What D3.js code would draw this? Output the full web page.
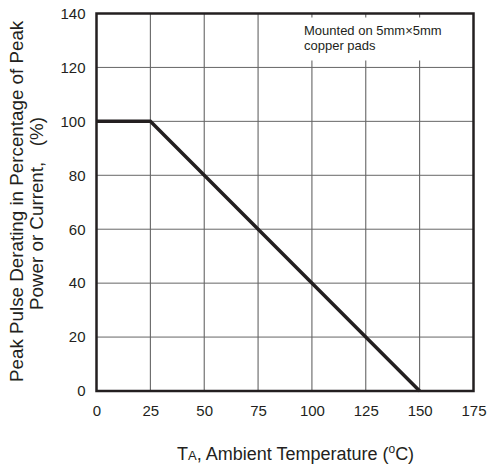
<!DOCTYPE html>
<html><head><meta charset="utf-8">
<script src="https://cdn.jsdelivr.net/npm/d3@7"></script>
<style>
html,body{margin:0;padding:0;background:#fff;}
svg{display:block;font-family:"Liberation Sans",Arial,sans-serif;}
</style></head>
<body>
<svg id="c" width="487" height="470"></svg>
<script>
const temps = [0, 25, 150];
const derating = [100, 100, 0];
const xTicks = [0, 25, 50, 75, 100, 125, 150, 175];
const yTicks = [0, 20, 40, 60, 80, 100, 120, 140];
const noteLines = ["Mounted on 5mm\u00d75mm", "copper pads"];

const svg = d3.select("#c");
const ink = "#231f20";
const L = 96.5, R = 473.5, T = 13.5, B = 391;
const x = d3.scaleLinear().domain([0, 175]).range([L, R]);
const y = d3.scaleLinear().domain([0, 140]).range([B, T]);

// grid
svg.append("g").selectAll("line").data(xTicks.slice(1, -1)).join("line")
  .attr("x1", d => x(d)).attr("x2", d => x(d)).attr("y1", T).attr("y2", B)
  .attr("stroke", "#555").attr("stroke-width", 1);
svg.append("g").selectAll("line").data(yTicks.slice(1, -1)).join("line")
  .attr("y1", d => y(d)).attr("y2", d => y(d)).attr("x1", L).attr("x2", R)
  .attr("stroke", "#666").attr("stroke-width", 1);

// note box
svg.append("rect").attr("x", 300).attr("y", 17.5).attr("width", R - 301.5).attr("height", 43)
  .attr("fill", "#fff");
svg.append("g").selectAll("text").data(noteLines).join("text")
  .attr("x", 304).attr("y", (d, i) => 35 + i * 15)
  .attr("font-size", 13).attr("fill", ink).text(d => d);

// frame
svg.append("rect").attr("x", L).attr("y", T).attr("width", R - L).attr("height", B - T)
  .attr("fill", "none").attr("stroke", ink).attr("stroke-width", 2.5);

// axes labels
const xAxis = d3.axisBottom(x).tickValues(xTicks).tickSize(0).tickPadding(14);
const gx = svg.append("g").attr("transform", `translate(0,${B})`).call(xAxis);
gx.select(".domain").remove();
gx.selectAll("text").attr("font-size", 15).attr("fill", ink).attr("font-family", "Liberation Sans, Arial, sans-serif");

const yAxis = d3.axisLeft(y).tickValues(yTicks).tickSize(0).tickPadding(11);
const gy = svg.append("g").attr("transform", `translate(${L},0)`).call(yAxis);
gy.select(".domain").remove();
gy.selectAll("text").attr("font-size", 15).attr("fill", ink).attr("font-family", "Liberation Sans, Arial, sans-serif");

// data line
const line = d3.line().x((d, i) => x(temps[i])).y(d => y(d));
svg.append("path").datum(derating).attr("d", line)
  .attr("fill", "none").attr("stroke", ink).attr("stroke-width", 3.5)
  .attr("stroke-linejoin", "miter");

// y title
const yt = svg.append("g").attr("fill", ink).attr("font-size", 18.8);
yt.append("text").attr("transform", "translate(23,382) rotate(-90)")
  .attr("text-anchor", "start").text("Peak Pulse Derating in Percentage of Peak");
yt.append("text").attr("transform", "translate(43,310) rotate(-90)")
  .attr("text-anchor", "start").attr("xml:space", "preserve").text("Power or Current,   (%)");

// x title
const xt = svg.append("text").attr("x", 177).attr("y", 460).attr("font-size", 18).attr("fill", ink);
xt.append("tspan").text("T");
xt.append("tspan").attr("font-size", 13).text("A");
xt.append("tspan").text(", Ambient Temperature (");
xt.append("tspan").attr("font-size", 12).attr("dy", -7).text("o");
xt.append("tspan").attr("dy", 7).text("C)");
</script>
</body></html>
